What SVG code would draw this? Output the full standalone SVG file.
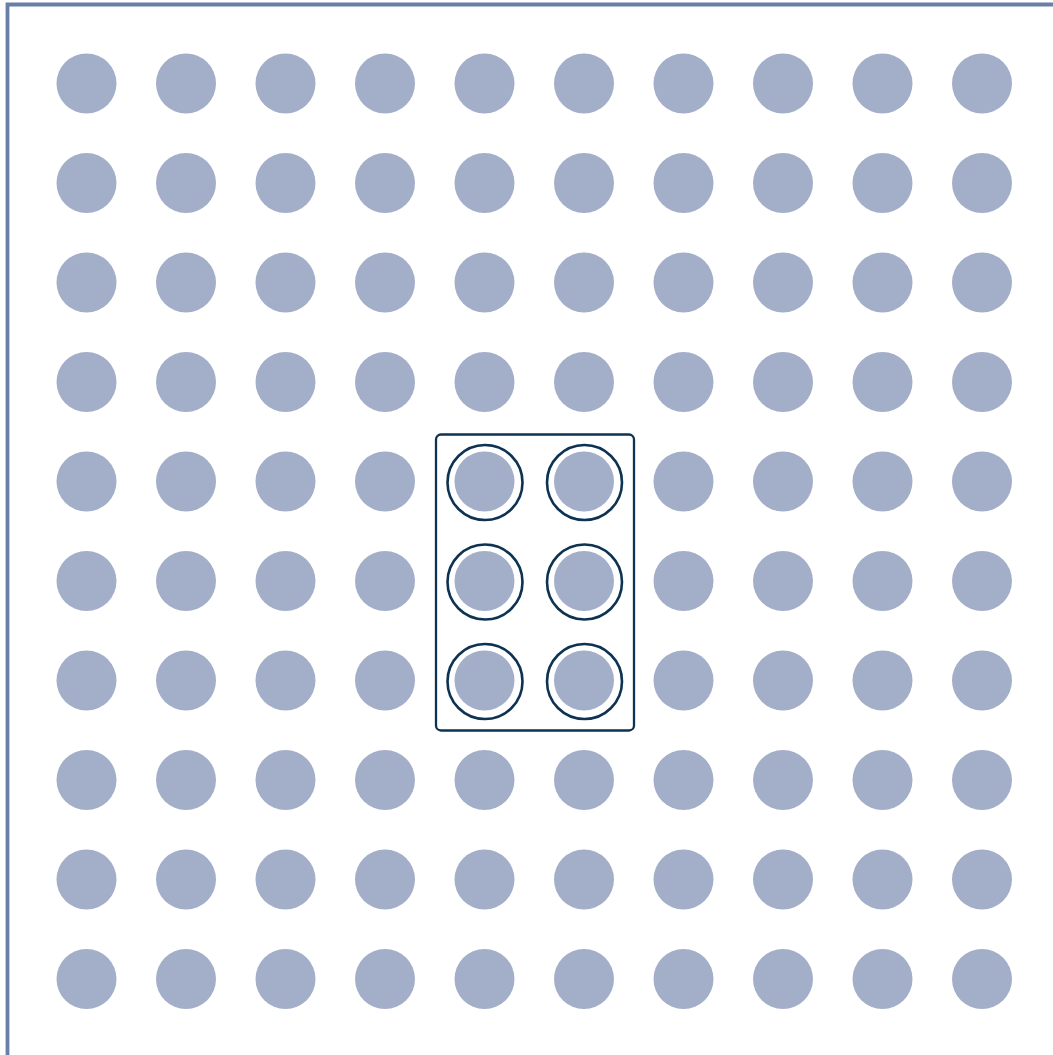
<svg xmlns="http://www.w3.org/2000/svg" width="1053" height="1055" viewBox="0 0 1053 1055">
<style>
.dot{fill:#a3aec9}
.ring{fill:none;stroke:#0e3352;stroke-width:2.6}
.box{fill:none;stroke:#0e3352;stroke-width:2.3}
.frame{fill:none;stroke:#687fa6;stroke-width:3.8}
</style>
<defs><circle id="d" r="30" class="dot"/></defs>
<rect width="1053" height="1055" fill="#fff"/>
<path class="frame" d="M7.5 1055 V4.5 H1053"/>
<g id="grid">
<g id="row0" transform="translate(0,83.5)"><use href="#d" x="86.5"/><use href="#d" x="186"/><use href="#d" x="285.5"/><use href="#d" x="385"/><use href="#d" x="484.5"/><use href="#d" x="584"/><use href="#d" x="683.5"/><use href="#d" x="783"/><use href="#d" x="882.5"/><use href="#d" x="982"/></g>
<g id="row1" transform="translate(0,183)"><use href="#d" x="86.5"/><use href="#d" x="186"/><use href="#d" x="285.5"/><use href="#d" x="385"/><use href="#d" x="484.5"/><use href="#d" x="584"/><use href="#d" x="683.5"/><use href="#d" x="783"/><use href="#d" x="882.5"/><use href="#d" x="982"/></g>
<g id="row2" transform="translate(0,282.5)"><use href="#d" x="86.5"/><use href="#d" x="186"/><use href="#d" x="285.5"/><use href="#d" x="385"/><use href="#d" x="484.5"/><use href="#d" x="584"/><use href="#d" x="683.5"/><use href="#d" x="783"/><use href="#d" x="882.5"/><use href="#d" x="982"/></g>
<g id="row3" transform="translate(0,382)"><use href="#d" x="86.5"/><use href="#d" x="186"/><use href="#d" x="285.5"/><use href="#d" x="385"/><use href="#d" x="484.5"/><use href="#d" x="584"/><use href="#d" x="683.5"/><use href="#d" x="783"/><use href="#d" x="882.5"/><use href="#d" x="982"/></g>
<g id="row4" transform="translate(0,481.5)"><use href="#d" x="86.5"/><use href="#d" x="186"/><use href="#d" x="285.5"/><use href="#d" x="385"/><use href="#d" x="484.5"/><use href="#d" x="584"/><use href="#d" x="683.5"/><use href="#d" x="783"/><use href="#d" x="882.5"/><use href="#d" x="982"/></g>
<g id="row5" transform="translate(0,581)"><use href="#d" x="86.5"/><use href="#d" x="186"/><use href="#d" x="285.5"/><use href="#d" x="385"/><use href="#d" x="484.5"/><use href="#d" x="584"/><use href="#d" x="683.5"/><use href="#d" x="783"/><use href="#d" x="882.5"/><use href="#d" x="982"/></g>
<g id="row6" transform="translate(0,680.5)"><use href="#d" x="86.5"/><use href="#d" x="186"/><use href="#d" x="285.5"/><use href="#d" x="385"/><use href="#d" x="484.5"/><use href="#d" x="584"/><use href="#d" x="683.5"/><use href="#d" x="783"/><use href="#d" x="882.5"/><use href="#d" x="982"/></g>
<g id="row7" transform="translate(0,780)"><use href="#d" x="86.5"/><use href="#d" x="186"/><use href="#d" x="285.5"/><use href="#d" x="385"/><use href="#d" x="484.5"/><use href="#d" x="584"/><use href="#d" x="683.5"/><use href="#d" x="783"/><use href="#d" x="882.5"/><use href="#d" x="982"/></g>
<g id="row8" transform="translate(0,879.5)"><use href="#d" x="86.5"/><use href="#d" x="186"/><use href="#d" x="285.5"/><use href="#d" x="385"/><use href="#d" x="484.5"/><use href="#d" x="584"/><use href="#d" x="683.5"/><use href="#d" x="783"/><use href="#d" x="882.5"/><use href="#d" x="982"/></g>
<g id="row9" transform="translate(0,979)"><use href="#d" x="86.5"/><use href="#d" x="186"/><use href="#d" x="285.5"/><use href="#d" x="385"/><use href="#d" x="484.5"/><use href="#d" x="584"/><use href="#d" x="683.5"/><use href="#d" x="783"/><use href="#d" x="882.5"/><use href="#d" x="982"/></g>
</g>
<g id="selection">
<rect class="box" x="436" y="434.5" width="198" height="296" rx="5"/>
<circle class="ring" cx="485" cy="482.5" r="37.5"/>
<circle class="ring" cx="584.5" cy="482.5" r="37.5"/>
<circle class="ring" cx="485" cy="582" r="37.5"/>
<circle class="ring" cx="584.5" cy="582" r="37.5"/>
<circle class="ring" cx="485" cy="681.5" r="37.5"/>
<circle class="ring" cx="584.5" cy="681.5" r="37.5"/>
</g>
<g id="connectors"/>
</svg>
